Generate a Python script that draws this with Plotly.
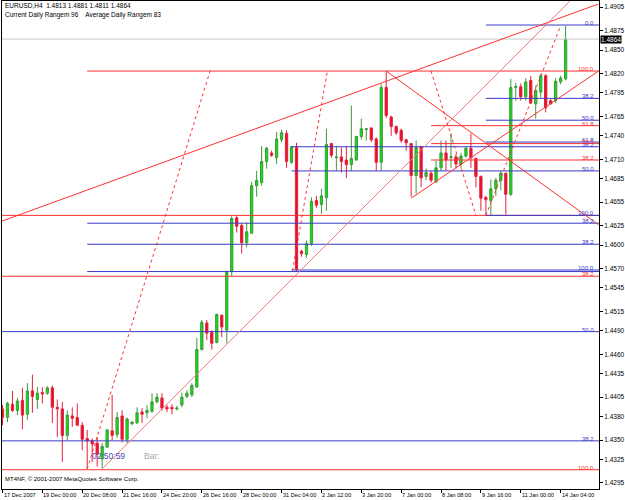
import plotly.graph_objects as go

# ---------------- data ----------------
bar_index = list(range(114))
opens = [1.4390,1.4379,1.4396,1.4388,1.4401,1.4383,1.4413,1.4402,1.4411,1.4410,
         1.4417,1.4392,1.4390,1.4356,1.4381,1.4379,1.4369,1.4352,1.4349,1.4346,
         1.4326,1.4341,1.4362,1.4357,1.4381,1.4351,1.4371,1.4372,1.4386,1.4385,
         1.4387,1.4399,1.4404,1.4392,1.4392,1.4390,1.4395,1.4406,1.4408,1.4418,
         1.4466,1.4500,1.4488,1.4475,1.4510,1.4491,1.4566,1.4635,1.4625,1.4603,
         1.4615,1.4676,1.4680,1.4707,1.4718,1.4712,1.4735,1.4743,1.4706,1.4725,
         1.4592,1.4588,1.4602,1.4657,1.4652,1.4661,1.4730,1.4712,1.4713,1.4709,
         1.4703,1.4709,1.4739,1.4748,1.4750,1.4736,1.4706,1.4802,1.4764,1.4752,
         1.4747,1.4735,1.4730,1.4689,1.4726,1.4688,1.4692,1.4681,1.4699,1.4718,
         1.4712,1.4713,1.4704,1.4714,1.4724,1.4711,1.4688,1.4661,1.4657,1.4672,
         1.4683,1.4692,1.4665,1.4802,1.4803,1.4790,1.4811,1.4781,1.4796,1.4817,
         1.4785,1.4785,1.4809,1.4813]
highs = [1.4395,1.4399,1.4413,1.4404,1.4417,1.4423,1.4434,1.4418,1.4418,1.4419,
         1.4420,1.4402,1.4399,1.4388,1.4392,1.4397,1.4373,1.4363,1.4352,1.4354,
         1.4346,1.4364,1.4408,1.4386,1.4388,1.4379,1.4374,1.4392,1.4391,1.4395,
         1.4410,1.4410,1.4410,1.4395,1.4396,1.4394,1.4411,1.4414,1.4423,1.4481,
         1.4504,1.4504,1.4491,1.4512,1.4511,1.4567,1.4637,1.4637,1.4628,1.4629,
         1.4681,1.4695,1.4727,1.4726,1.4721,1.4745,1.4748,1.4747,1.4727,1.4731,
         1.4594,1.4606,1.4661,1.4663,1.4672,1.4749,1.4731,1.4727,1.4725,1.4727,
         1.4779,1.4740,1.4762,1.4750,1.4751,1.4738,1.4807,1.4823,1.4766,1.4753,
         1.4749,1.4736,1.4731,1.4734,1.4727,1.4698,1.4695,1.4708,1.4734,1.4734,
         1.4743,1.4717,1.4718,1.4726,1.4743,1.4712,1.4689,1.4663,1.4684,1.4686,
         1.4695,1.4693,1.4813,1.4808,1.4807,1.4814,1.4817,1.4804,1.4819,1.4819,
         1.4787,1.4814,1.4817,1.4881]
lows = [1.4369,1.4373,1.4386,1.4382,1.4364,1.4376,1.4385,1.4390,1.4397,1.4408,
        1.4372,1.4354,1.4322,1.4350,1.4367,1.4368,1.4337,1.4313,1.4322,1.4316,
        1.4314,1.4340,1.4350,1.4353,1.4347,1.4346,1.4369,1.4371,1.4372,1.4378,
        1.4385,1.4397,1.4388,1.4386,1.4383,1.4388,1.4392,1.4404,1.4405,1.4417,
        1.4465,1.4478,1.4466,1.4474,1.4482,1.4474,1.4560,1.4616,1.4589,1.4597,
        1.4615,1.4662,1.4676,1.4698,1.4713,1.4704,1.4732,1.4699,1.4704,1.4566,
        1.4585,1.4584,1.4599,1.4648,1.4640,1.4644,1.4712,1.4695,1.4693,1.4686,
        1.4695,1.4708,1.4735,1.4734,1.4732,1.4695,1.4695,1.4763,1.4740,1.4741,
        1.4731,1.4721,1.4662,1.4666,1.4674,1.4683,1.4680,1.4680,1.4695,1.4695,
        1.4699,1.4698,1.4699,1.4712,1.4699,1.4674,1.4644,1.4638,1.4638,1.4663,
        1.4670,1.4639,1.4663,1.4785,1.4785,1.4785,1.4781,1.4762,1.4789,1.4770,
        1.4780,1.4782,1.4806,1.4811]
closes = [1.4379,1.4397,1.4388,1.4400,1.4382,1.4413,1.4406,1.4410,1.4409,1.4417,
          1.4392,1.4390,1.4356,1.4382,1.4378,1.4369,1.4351,1.4349,1.4345,1.4332,
          1.4342,1.4363,1.4356,1.4379,1.4351,1.4377,1.4373,1.4385,1.4383,1.4388,
          1.4399,1.4405,1.4391,1.4390,1.4390,1.4391,1.4405,1.4410,1.4420,1.4466,
          1.4501,1.4487,1.4474,1.4511,1.4495,1.4565,1.4634,1.4624,1.4603,1.4617,
          1.4676,1.4683,1.4707,1.4724,1.4715,1.4736,1.4744,1.4707,1.4726,1.4569,
          1.4589,1.4602,1.4656,1.4651,1.4663,1.4729,1.4715,1.4713,1.4707,1.4703,
          1.4711,1.4739,1.4749,1.4749,1.4735,1.4706,1.4802,1.4766,1.4752,1.4744,
          1.4734,1.4731,1.4689,1.4725,1.4686,1.4693,1.4683,1.4699,1.4718,1.4709,
          1.4713,1.4704,1.4714,1.4724,1.4712,1.4688,1.4660,1.4658,1.4672,1.4683,
          1.4692,1.4665,1.4802,1.4803,1.4790,1.4809,1.4782,1.4798,1.4817,1.4776,
          1.4781,1.4810,1.4814,1.4864]

tick_bars = [0, 8, 16, 24, 32, 40, 48, 56, 64, 72, 80, 88, 96, 104, 112]
tick_labels = ["17 Dec 2007", "19 Dec 00:00", "20 Dec 08:00", "21 Dec 16:00",
               "24 Dec 20:00", "26 Dec 16:00", "28 Dec 00:00", "31 Dec 04:00",
               "2 Jan 12:00", "3 Jan 20:00", "7 Jan 00:00", "8 Jan 08:00",
               "9 Jan 16:00", "11 Jan 00:00", "14 Jan 04:00"]
price_ticks = [1.4905, 1.4875, 1.4850, 1.4820, 1.4795, 1.4765, 1.4740, 1.4710,
               1.4685, 1.4655, 1.4625, 1.4600, 1.4570, 1.4545, 1.4515, 1.4490,
               1.4460, 1.4435, 1.4405, 1.4380, 1.4350, 1.4325, 1.4295]

# Fibonacci levels: price, first bar, label
blue_levels = [1.4882, 1.4788, 1.4760, 1.4732, 1.4726, 1.4695, 1.4638, 1.4628,
               1.4601, 1.4568, 1.4566, 1.4489, 1.4349]
blue_starts = [97, 97, 97, 97, 58, 58, 97, 17, 17, 58, 17, -2, -2]
blue_labels = ["0.0", "38.2", "50.0", "61.8", "38.2", "50.0", "100.0", "38.2",
               "38.2", "100.0", "", "50.0", "38.2"]
red_levels = [1.4823, 1.4753, 1.4730, 1.4709, 1.4638, 1.4560, 1.4312]
red_starts = [17, 86, 86, 86, -2, -2, -2]
red_labels = ["100.0", "61.8", "50.0", "38.2", "", "38.2", "100.0"]

bid_price = 1.4864

# trend lines: start bar, start price, end bar, end price
solid_x0 = [-0.4, 77, 82]
solid_p0 = [1.4630, 1.4823, 1.4660]
solid_x1 = [119.6, 119.6, 119.6]
solid_p1 = [1.4909, 1.4626, 1.4823]
light_x0 = [20]
light_p0 = [1.4313]
light_x1 = [120]
light_p1 = [1.4952]
dot_x0 = [17, 58.2, 86, 97]
dot_p0 = [1.4313, 1.4567, 1.4823, 1.4638]
dot_x1 = [41.8, 65.2, 95, 112]
dot_p1 = [1.4826, 1.4823, 1.4638, 1.4881]

header1 = "EURUSD,H4  1.4813 1.4881 1.4811 1.4864"
header2 = "Current Daily Rangem 96    Average Daily Rangem 83"
footer = "MT4NF, © 2001-2007 MetaQuotes Software Corp."
timer_text = "02:50:59"
bar_text = "Bar:"

# ---------------- figure ----------------
BLUE = "#3a3ac8"
RED = "#ff3030"
FONT = "Liberation Sans"
X_END = 125

fig = go.Figure()

def hlines(prices, starts, color, width=1):
    xs, ys = [], []
    for p, s in zip(prices, starts):
        xs += [s, X_END, None]
        ys += [p, p, None]
    fig.add_trace(go.Scatter(x=xs, y=ys, mode="lines", hoverinfo="skip",
                             line=dict(color=color, width=width)))

def seglines(x0, p0, x1, p1, color, dash="solid", width=1):
    xs, ys = [], []
    for a, b, c, d in zip(x0, p0, x1, p1):
        xs += [a, c, None]
        ys += [b, d, None]
    fig.add_trace(go.Scatter(x=xs, y=ys, mode="lines", hoverinfo="skip",
                             line=dict(color=color, width=width, dash=dash)))

hlines([bid_price], [-2], "#c8c8c8")
hlines(red_levels, red_starts, RED)
hlines(blue_levels, blue_starts, BLUE)
seglines(solid_x0, solid_p0, solid_x1, solid_p1, RED)
seglines(light_x0, light_p0, light_x1, light_p1, "#f27a7a")
seglines(dot_x0, dot_p0, dot_x1, dot_p1, RED, dash="dot")

fig.add_trace(go.Candlestick(
    x=bar_index, open=opens, high=highs, low=lows, close=closes,
    increasing=dict(line=dict(color="#3c9a3c", width=1), fillcolor="#10e010"),
    decreasing=dict(line=dict(color="#e8203c", width=1), fillcolor="#e0102c"),
    whiskerwidth=0, hoverinfo="skip"))

ann = []
for b, t in zip(tick_bars, tick_labels):
    ann.append(dict(x=b, y=0, xref="x", yref="paper", text=t, showarrow=False,
                    xanchor="left", yanchor="top", xshift=-1, yshift=-1,
                    font=dict(family=FONT, size=5.6, color="black")))
for p, t in zip(blue_levels, blue_labels):
    if t:
        ann.append(dict(x=1, y=p, xref="paper", yref="y", text=t, showarrow=False,
                        xanchor="right", yanchor="bottom", xshift=-3, yshift=-3,
                        font=dict(family=FONT, size=6, color=BLUE)))
for p, t in zip(red_levels, red_labels):
    if t:
        ann.append(dict(x=1, y=p, xref="paper", yref="y", text=t, showarrow=False,
                        xanchor="right", yanchor="bottom", xshift=-3, yshift=-3,
                        font=dict(family=FONT, size=6, color=RED)))
ann.append(dict(x=1, y=bid_price, xref="paper", yref="y", text=f"{bid_price:.4f}",
                showarrow=False, xanchor="left", yanchor="middle", xshift=1,
                bgcolor="black", borderpad=0,
                font=dict(family=FONT, size=6.5, color="white")))
ann.append(dict(x=0, y=1, xref="paper", yref="paper", text=header1, showarrow=False,
                xanchor="left", yanchor="top", xshift=1, yshift=1,
                font=dict(family=FONT, size=6.5, color="black")))
ann.append(dict(x=0, y=1, xref="paper", yref="paper", text=header2, showarrow=False,
                xanchor="left", yanchor="top", xshift=1, yshift=-8,
                font=dict(family=FONT, size=6.5, color="black")))
ann.append(dict(x=0, y=0, xref="paper", yref="paper", text=footer, showarrow=False,
                xanchor="left", yanchor="bottom", xshift=1, yshift=5,
                font=dict(family=FONT, size=6, color="black")))
ann.append(dict(x=17.6, y=1.4329, xref="x", yref="y", text=timer_text, showarrow=False,
                xanchor="left", yanchor="middle",
                font=dict(family=FONT, size=8.5, color="#4a4ab4")))
ann.append(dict(x=27.9, y=1.4329, xref="x", yref="y", text=bar_text, showarrow=False,
                xanchor="left", yanchor="middle",
                font=dict(family=FONT, size=8.5, color="#a8a8a8")))

fig.update_layout(
    width=625, height=500,
    margin=dict(l=2, r=24, t=0, b=11),
    paper_bgcolor="white", plot_bgcolor="white",
    showlegend=False, annotations=ann, boxgap=0.35,
    xaxis=dict(range=[-0.1, 119.7], showgrid=False, zeroline=False,
               showline=True, linecolor="black", linewidth=1, mirror=True,
               tickvals=tick_bars, ticks="outside", ticklen=3, tickcolor="black",
               showticklabels=False, rangeslider=dict(visible=False), fixedrange=True),
    yaxis=dict(range=[1.42873, 1.49128], side="right", showgrid=False, zeroline=False,
               showline=True, linecolor="black", linewidth=1, mirror=True,
               tickvals=price_ticks, ticktext=[f"{v:.4f}" for v in price_ticks],
               ticks="outside", ticklen=3, tickcolor="black",
               tickfont=dict(family=FONT, size=6.5, color="black"), fixedrange=True),
)

fig.write_html("out.html")
